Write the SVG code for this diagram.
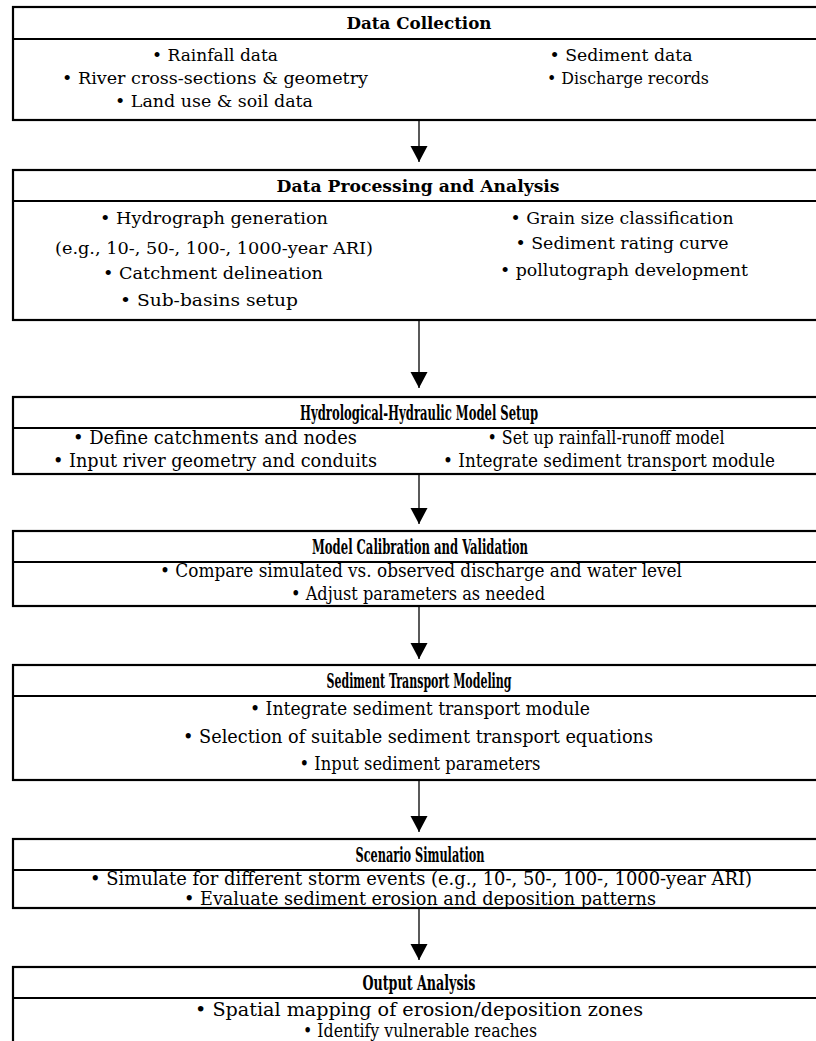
<svg xmlns="http://www.w3.org/2000/svg" width="816" height="1041" viewBox="0 0 816 1041">
<style>
.box{fill:#fff;stroke:#000;stroke-width:2.2}
.sep{stroke:#000;stroke-width:2.2}
text{font-family:"DejaVu Serif","Liberation Serif",serif;fill:#000;text-anchor:middle}
.h{font-weight:bold;font-size:16px}
.t{font-size:16px}
.c{font-family:"DejaVu Serif Condensed","DejaVu Serif",serif;font-size:18px}
.hc{font-family:"DejaVu Serif Condensed","DejaVu Serif",serif;font-size:20px;font-weight:bold}
.arr{stroke:#000;stroke-width:1.3;fill:none}
</style>
<defs>
<marker id="ah" markerUnits="userSpaceOnUse" markerWidth="18" markerHeight="18" refX="16" refY="8.5" orient="auto" viewBox="0 0 18 17">
<path d="M0,0 L16,8.5 L0,17 z" fill="#000"/>
</marker>
</defs>
<g id="connectors">
<line class="arr" x1="419" y1="121" x2="419" y2="162" marker-end="url(#ah)"/>
<line class="arr" x1="419" y1="321" x2="419" y2="388" marker-end="url(#ah)"/>
<line class="arr" x1="419" y1="475" x2="419" y2="524" marker-end="url(#ah)"/>
<line class="arr" x1="419" y1="607" x2="419" y2="659" marker-end="url(#ah)"/>
<line class="arr" x1="419" y1="781" x2="419" y2="832" marker-end="url(#ah)"/>
<line class="arr" x1="419" y1="909" x2="419" y2="960" marker-end="url(#ah)"/>
</g>
<g id="n1">
<rect class="box" x="13" y="7" width="810" height="113"/>
<line class="sep" x1="13" y1="39" x2="823" y2="39"/>
<text class="h" x="419" y="29" textLength="145" lengthAdjust="spacingAndGlyphs">Data Collection</text>
<text class="t" x="215" y="61" textLength="126" lengthAdjust="spacingAndGlyphs">• Rainfall data</text>
<text class="t" x="215" y="84" textLength="306" lengthAdjust="spacingAndGlyphs">• River cross-sections &amp; geometry</text>
<text class="t" x="214" y="107" textLength="198" lengthAdjust="spacingAndGlyphs">• Land use &amp; soil data</text>
<text class="t" x="621" y="61" textLength="143" lengthAdjust="spacingAndGlyphs">• Sediment data</text>
<text class="t" x="628" y="84" textLength="162" lengthAdjust="spacingAndGlyphs">• Discharge records</text>
</g>
<g id="n2">
<rect class="box" x="13" y="170" width="810" height="150"/>
<line class="sep" x1="13" y1="201" x2="823" y2="201"/>
<text class="h" x="418" y="192" textLength="283" lengthAdjust="spacingAndGlyphs">Data Processing and Analysis</text>
<text class="t" x="214" y="224" textLength="228" lengthAdjust="spacingAndGlyphs">• Hydrograph generation</text>
<text class="t" x="214" y="254" textLength="318" lengthAdjust="spacingAndGlyphs">(e.g., 10-, 50-, 100-, 1000-year ARI)</text>
<text class="t" x="213" y="279" textLength="220" lengthAdjust="spacingAndGlyphs">• Catchment delineation</text>
<text class="t" x="209" y="306" textLength="178" lengthAdjust="spacingAndGlyphs">• Sub-basins setup</text>
<text class="t" x="622" y="224" textLength="223" lengthAdjust="spacingAndGlyphs">• Grain size classification</text>
<text class="t" x="622" y="249" textLength="213" lengthAdjust="spacingAndGlyphs">• Sediment rating curve</text>
<text class="t" x="624" y="276" textLength="248" lengthAdjust="spacingAndGlyphs">• pollutograph development</text>
</g>
<g id="n3">
<rect class="box" x="13" y="397" width="810" height="77"/>
<line class="sep" x1="13" y1="428" x2="823" y2="428"/>
<text class="hc" x="419" y="420" textLength="238" lengthAdjust="spacingAndGlyphs">Hydrological-Hydraulic Model Setup</text>
<text class="c" x="215" y="444" textLength="284" lengthAdjust="spacingAndGlyphs">• Define catchments and nodes</text>
<text class="c" x="215" y="467" textLength="324" lengthAdjust="spacingAndGlyphs">• Input river geometry and conduits</text>
<text class="c" x="606" y="444" textLength="237" lengthAdjust="spacingAndGlyphs">• Set up rainfall-runoff model</text>
<text class="c" x="609" y="467" textLength="332" lengthAdjust="spacingAndGlyphs">• Integrate sediment transport module</text>
</g>
<g id="n4">
<rect class="box" x="13" y="531" width="810" height="75"/>
<line class="sep" x1="13" y1="562" x2="823" y2="562"/>
<text class="hc" x="420" y="554" textLength="216" lengthAdjust="spacingAndGlyphs">Model Calibration and Validation</text>
<text class="c" x="421" y="577" textLength="522" lengthAdjust="spacingAndGlyphs">• Compare simulated vs. observed discharge and water level</text>
<text class="c" x="418" y="600" textLength="254" lengthAdjust="spacingAndGlyphs">• Adjust parameters as needed</text>
</g>
<g id="n5">
<rect class="box" x="13" y="665" width="810" height="115"/>
<line class="sep" x1="13" y1="696" x2="823" y2="696"/>
<text class="hc" x="419" y="688" textLength="185" lengthAdjust="spacingAndGlyphs">Sediment Transport Modeling</text>
<text class="c" x="420" y="715" textLength="340" lengthAdjust="spacingAndGlyphs">• Integrate sediment transport module</text>
<text class="c" x="418" y="743" textLength="470" lengthAdjust="spacingAndGlyphs">• Selection of suitable sediment transport equations</text>
<text class="c" x="420" y="770" textLength="241" lengthAdjust="spacingAndGlyphs">• Input sediment parameters</text>
</g>
<g id="n6">
<rect class="box" x="13" y="839" width="810" height="69"/>
<line class="sep" x1="13" y1="870" x2="823" y2="870"/>
<text class="hc" x="420" y="862" textLength="129" lengthAdjust="spacingAndGlyphs">Scenario Simulation</text>
<text class="c" x="421" y="885" textLength="662" lengthAdjust="spacingAndGlyphs">• Simulate for different storm events (e.g., 10-, 50-, 100-, 1000-year ARI)</text>
<text class="c" x="420" y="905" textLength="472" lengthAdjust="spacingAndGlyphs">• Evaluate sediment erosion and deposition patterns</text>
</g>
<g id="n7">
<rect class="box" x="13" y="967" width="810" height="90"/>
<line class="sep" x1="13" y1="998" x2="823" y2="998"/>
<text class="hc" x="419" y="990" textLength="113" lengthAdjust="spacingAndGlyphs">Output Analysis</text>
<text class="c" x="419" y="1016" textLength="448" lengthAdjust="spacingAndGlyphs">• Spatial mapping of erosion/deposition zones</text>
<text class="c" x="420" y="1037" textLength="234" lengthAdjust="spacingAndGlyphs">• Identify vulnerable reaches</text>
</g>
</svg>
